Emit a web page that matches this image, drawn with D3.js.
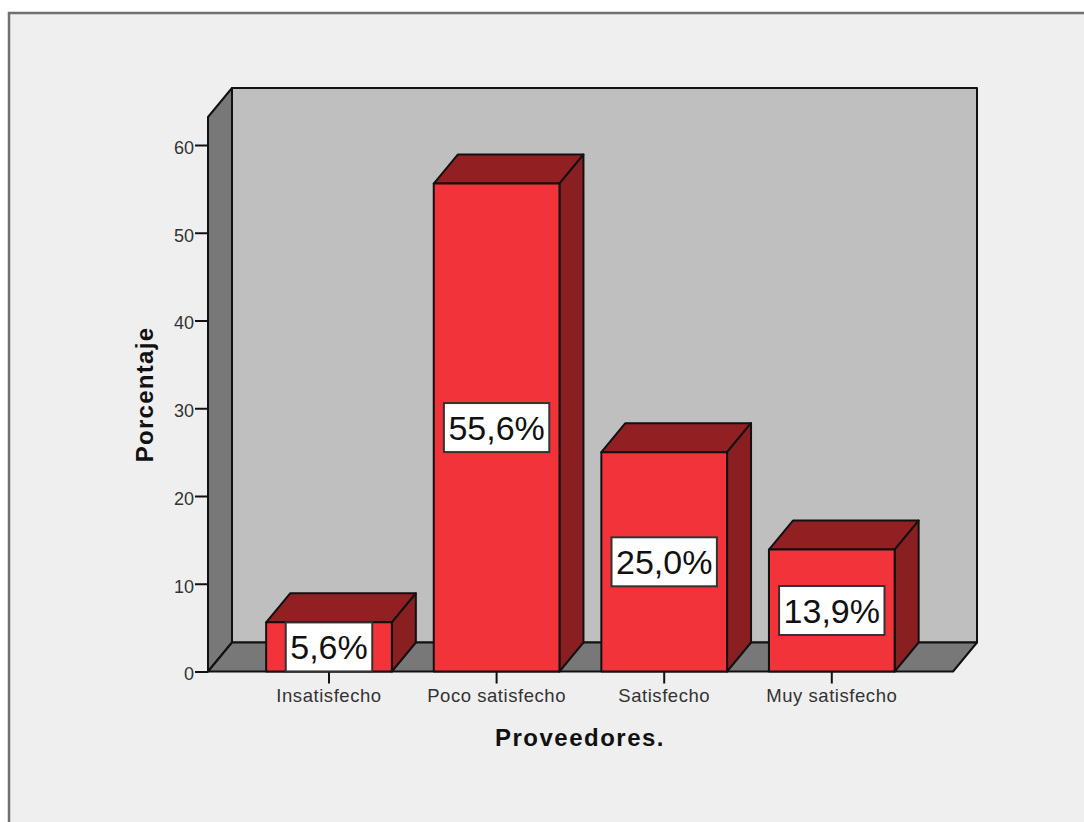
<!DOCTYPE html>
<html>
<head>
<meta charset="utf-8">
<script src="https://cdn.jsdelivr.net/npm/d3@7"></script>
<style>
html, body { margin: 0; padding: 0; background: #fff; overflow: hidden; }
svg { display: block; }
text { font-family: "Liberation Sans", Arial, sans-serif; }
</style>
</head>
<body>
<svg id="chart" width="1084" height="822"></svg>
<script>
// Satisfaction with suppliers, share of respondents per category
const categories = ["Insatisfecho", "Poco satisfecho", "Satisfecho", "Muy satisfecho"];
const percentages = [5.6, 55.6, 25.0, 13.9];
const valueLabels = ["5,6%", "55,6%", "25,0%", "13,9%"];
const yTicks = [0, 10, 20, 30, 40, 50, 60];

const svg = d3.select("#chart");
const ink = "#111";

// Plot frame and 3D extrusion offsets
const left = 208, right = 953, baseY = 671.5, depthX = 24, depthY = -29, wallTop = 88;

const x = d3.scaleBand().domain(categories).range([245.2, 915.6]).paddingInner(0.25).paddingOuter(0.125);
const y = d3.scaleLinear().domain([0, 60]).range([baseY, 145]);

const poly = (pts, fill) => svg.append("path")
  .attr("d", d3.line()(pts) + "Z")
  .attr("fill", fill)
  .attr("stroke", ink)
  .attr("stroke-width", 2)
  .attr("stroke-linejoin", "round");

// Outer panel: only its top and left edges are in view
svg.append("rect").attr("x", 9).attr("y", 13).attr("width", 1095).attr("height", 830)
  .attr("fill", "#efefef").attr("stroke", "#707070").attr("stroke-width", 2.5);

// Back wall, side wall and floor of the box
const topFront = wallTop - depthY;
poly([[left + depthX, wallTop], [right + depthX, wallTop], [right + depthX, baseY + depthY], [left + depthX, baseY + depthY]], "#bfbfbf");
poly([[left, baseY], [left, topFront], [left + depthX, wallTop], [left + depthX, baseY + depthY]], "#787878");
poly([[left, baseY], [right, baseY], [right + depthX, baseY + depthY], [left + depthX, baseY + depthY]], "#787878");

// Value axis
const yAxis = svg.append("g").attr("transform", `translate(${left},0)`)
  .call(d3.axisLeft(y).tickValues(yTicks).tickSize(13).tickPadding(1).tickFormat(d3.format("d")));
yAxis.select(".domain").remove();
yAxis.selectAll("line").attr("stroke", ink).attr("stroke-width", 2);
yAxis.selectAll("text").attr("font-size", 18).attr("fill", "#333").attr("dy", "0.47em")
  .attr("font-family", '"Liberation Sans", Arial, sans-serif');

// Category axis
const xAxis = svg.append("g").attr("transform", `translate(0,${baseY})`)
  .call(d3.axisBottom(x).tickSize(12).tickPadding(5));
xAxis.select(".domain").remove();
xAxis.selectAll("line").attr("stroke", ink).attr("stroke-width", 2);
xAxis.selectAll("text").attr("font-size", 18.5).attr("letter-spacing", 0.55).attr("fill", "#333")
  .attr("font-family", '"Liberation Sans", Arial, sans-serif');

// Bars: top face, side face, then front face
const bars = categories.map((c, i) => ({ c, v: percentages[i], label: valueLabels[i] }));
bars.forEach(d => {
  const x0 = x(d.c), x1 = x0 + x.bandwidth(), yTop = y(d.v);
  poly([[x0, yTop], [x0 + depthX, yTop + depthY], [x1 + depthX, yTop + depthY], [x1, yTop]], "#922023");
  poly([[x1, yTop], [x1 + depthX, yTop + depthY], [x1 + depthX, baseY + depthY], [x1, baseY]], "#8a1f22");
  poly([[x0, yTop], [x1, yTop], [x1, baseY], [x0, baseY]], "#f2343a");
});

// Value labels sit mid-bar and stay inside the front face
const pad = 4.5, boxH = 49, fontSize = 34;
bars.forEach(d => {
  const cx = x(d.c) + x.bandwidth() / 2;
  const yTop = y(d.v);
  let cy = (yTop + baseY) / 2;
  const h = Math.min(boxH, baseY - yTop);
  cy = Math.min(cy, baseY - h / 2);
  const t = svg.append("text").attr("x", cx).attr("y", cy + fontSize * 0.36)
    .attr("text-anchor", "middle").attr("font-size", fontSize).attr("fill", "#111").text(d.label);
  const w = t.node().getComputedTextLength() + pad * 2;
  svg.insert("rect", () => t.node())
    .attr("x", cx - w / 2).attr("y", cy - h / 2).attr("width", w).attr("height", h)
    .attr("fill", "#fff").attr("stroke", "#333").attr("stroke-width", 2);
});

// Axis titles
svg.append("text").attr("x", 580).attr("y", 746).attr("text-anchor", "middle")
  .attr("font-size", 24).attr("font-weight", "bold").attr("letter-spacing", 1.5).attr("fill", "#111")
  .text("Proveedores.");
svg.append("text").attr("transform", "translate(153,394.5) rotate(-90)").attr("text-anchor", "middle")
  .attr("font-size", 24).attr("font-weight", "bold").attr("letter-spacing", 1.3).attr("fill", "#111")
  .text("Porcentaje");
</script>
</body>
</html>
